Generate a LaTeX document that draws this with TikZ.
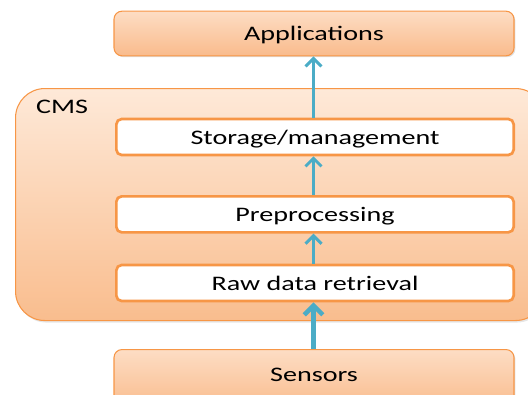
\documentclass[tikz,border=0pt]{standalone}
\usepackage{graphicx}
\usepackage{fontspec}
\setmainfont{Carlito}
\usepackage{xcolor}
\usetikzlibrary{arrows.meta, positioning, shadows}

\definecolor{boxline}{HTML}{F79646}
\definecolor{boxtop}{HTML}{FDDDC4}
\definecolor{boxbottom}{HTML}{F9BB8C}
\definecolor{cmstop}{HTML}{FEE9D8}
\definecolor{cmsbottom}{HTML}{F9BD8E}
\definecolor{arrowblue}{HTML}{4BACC6}

\newcommand{\wtext}[1]{\scalebox{1.36}[1]{#1}}

\begin{document}
\begin{tikzpicture}[
        x=0.75pt, y=-0.75pt,
        font=\fontsize{15.5}{18}\selectfont,
        node distance=29pt,
        outer/.style={rectangle, rounded corners=6pt, draw=boxline, line width=0.8pt,
            top color=boxtop, bottom color=boxbottom, minimum width=300pt,
            drop shadow={opacity=0.25, shadow xshift=1pt, shadow yshift=-1pt}},
        layer/.style={rectangle, rounded corners=4pt, draw=boxline, line width=2pt,
            fill=white, minimum width=298pt, minimum height=27pt, text depth=0pt},
        arrow/.style={-{Straight Barb[length=6pt, width=12pt]}, arrowblue, line width=2.2pt},
        bigarrow/.style={-{Straight Barb[length=7pt, width=14pt]}, arrowblue, line width=3.4pt}
    ]
        \useasboundingbox (0,0) rectangle (528,394);
        \clip (0,0) rectangle (528,394);

        % CMS frame
        \node[rectangle, rounded corners=22pt, draw=boxline, line width=0.8pt,
            top color=cmstop, bottom color=cmsbottom, minimum width=397pt,
            minimum height=174pt, anchor=north west,
            drop shadow={opacity=0.2, shadow xshift=1pt, shadow yshift=-1.5pt}] (cms) at (15,88) {};
        \node[anchor=center] (cmslabel) at (62,107) {\wtext{CMS}};

        % Nodes
        \node[outer, minimum height=33.5pt, text depth=0pt] (apps) at (314,33.5) {\wtext{Applications}};
        \node[layer] (storage) at (315,137) {\wtext{Storage/management}};
        \node[layer, below=29pt of storage] (prep) {\wtext{Preprocessing}};
        \node[layer, below=22.5pt of prep] (raw) {\wtext{Raw data retrieval}};
        \node[outer, minimum height=45pt, anchor=north, text depth=7pt] (sensors) at (314,349) {\wtext{Sensors}};

        % Arrows
        \draw[arrow] (storage.north -| 313.5,0) -- (apps.south -| 313.5,0);
        \draw[arrow] (prep.north -| 313.5,0) -- (storage.south -| 313.5,0);
        \draw[arrow] (raw.north -| 313.5,0) -- (prep.south -| 313.5,0);
        \draw[bigarrow] (sensors.north -| 313.5,0) -- (raw.south -| 313.5,0);
    \end{tikzpicture}
\end{document}
